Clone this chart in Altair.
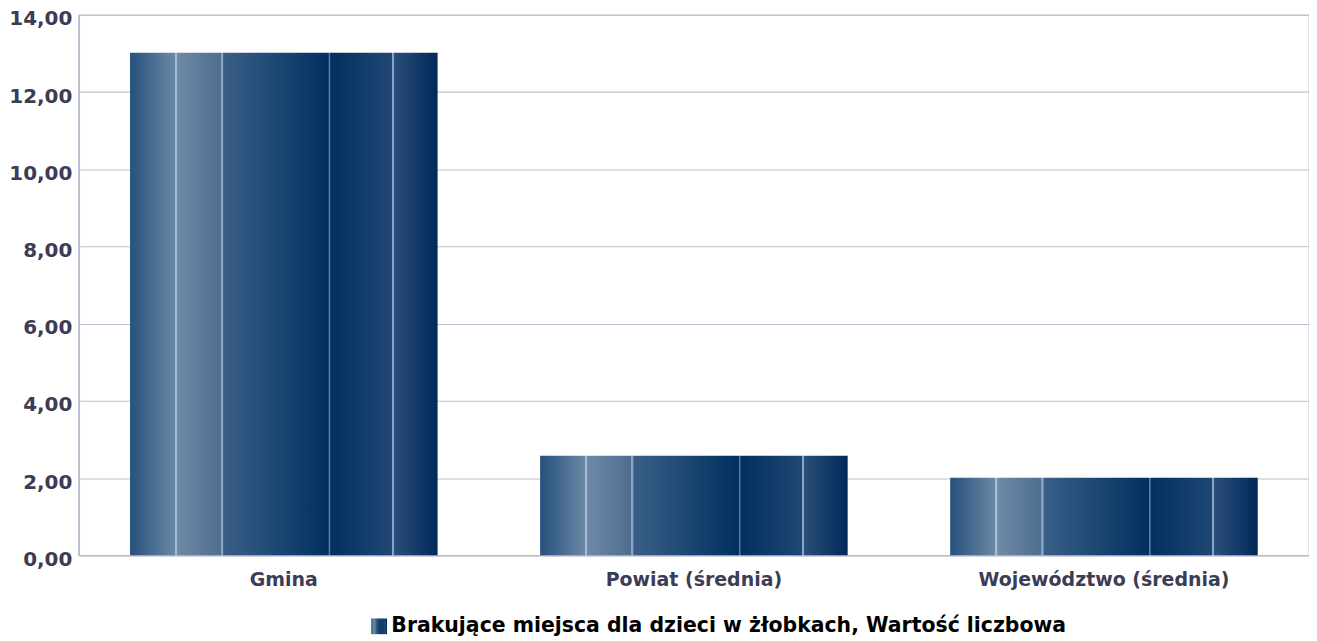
import altair as alt
import pandas as pd

categories = ["Gmina", "Powiat (średnia)", "Województwo (średnia)"]
values = [13.02, 2.58, 2.01]
series = ["Brakujące miejsca dla dzieci w żłobkach, Wartość liczbowa"] * 3

df = pd.DataFrame({"kategoria": categories, "wartosc": values, "seria": series})

stops = [
    (0.0, "#27507d"), (0.146, "#6a88a5"), (0.147, "#a8bcd2"), (0.153, "#a8bcd2"),
    (0.154, "#6f8aa8"), (0.296, "#4e6d8f"), (0.297, "#8aa4c4"), (0.303, "#8aa4c4"),
    (0.304, "#3a5f87"), (0.645, "#00305f"), (0.646, "#5a7ca3"), (0.651, "#5a7ca3"),
    (0.652, "#03305f"), (0.851, "#1f4774"), (0.852, "#8aa4c8"), (0.858, "#8aa4c8"),
    (0.859, "#2a4f78"), (1.0, "#00285a"),
]
grad = alt.LinearGradient(
    gradient="linear", x1=0, x2=1, y1=0, y2=0,
    stops=[alt.GradientStop(offset=o, color=c) for o, c in stops],
)

stops_js = ",".join("{offset:%s,color:'%s'}" % (o, c) for o, c in stops)
legend_fill = "{gradient:'linear',x1:0,x2:1,y1:0,y2:0,stops:[" + stops_js + "]}"

font = "DejaVu Sans"
label_color = "#3c3c55"

chart = alt.Chart(df).mark_bar(color=grad).encode(
    x=alt.X("kategoria:N", sort=categories, title=None,
            scale=alt.Scale(paddingInner=0.25, paddingOuter=0.125),
            axis=alt.Axis(labelAngle=0, ticks=False, domain=False, labelPadding=15,
                          labelFont=font, labelFontSize=19, labelFontWeight="bold",
                          labelColor=label_color, labelLimit=1000)),
    y=alt.Y("wartosc:Q", title=None,
            scale=alt.Scale(domain=[0, 14], nice=False),
            axis=alt.Axis(values=[0, 2, 4, 6, 8, 10, 12, 14], ticks=False,
                          labelExpr="replace(format(datum.value, '.2f'), '.', ',')",
                          labelFont=font, labelFontSize=20, labelFontWeight="bold",
                          labelColor=label_color, labelPadding=7, labelOffset=4,
                          domainColor="#b8b8cc", domainWidth=1.5,
                          gridColor="#c0c0d4", gridWidth=1.2)),
    opacity=alt.Opacity("seria:N", scale=alt.Scale(range=[1]),
                        legend=alt.Legend(orient="none", legendX=291, legendY=603,
                                          title=None, symbolType="square",
                                          symbolSize=250, symbolStrokeWidth=0,
                                          symbolOpacity=1,
                                          symbolFillColor=alt.ExprRef(expr=legend_fill),
                                          labelFont=font, labelFontSize=20.5,
                                          labelFontWeight="bold", labelColor="#000000",
                                          labelLimit=1000, labelOffset=2)),
).properties(
    width=1234, height=542,
    autosize=alt.AutoSizeParams(type="none"),
    padding={"left": 71, "top": 6, "right": 0, "bottom": 85},
).configure_view(stroke="#a8a8c0", strokeWidth=1.2)

chart.save("out.html", embed_options={"renderer": "svg", "actions": False})
